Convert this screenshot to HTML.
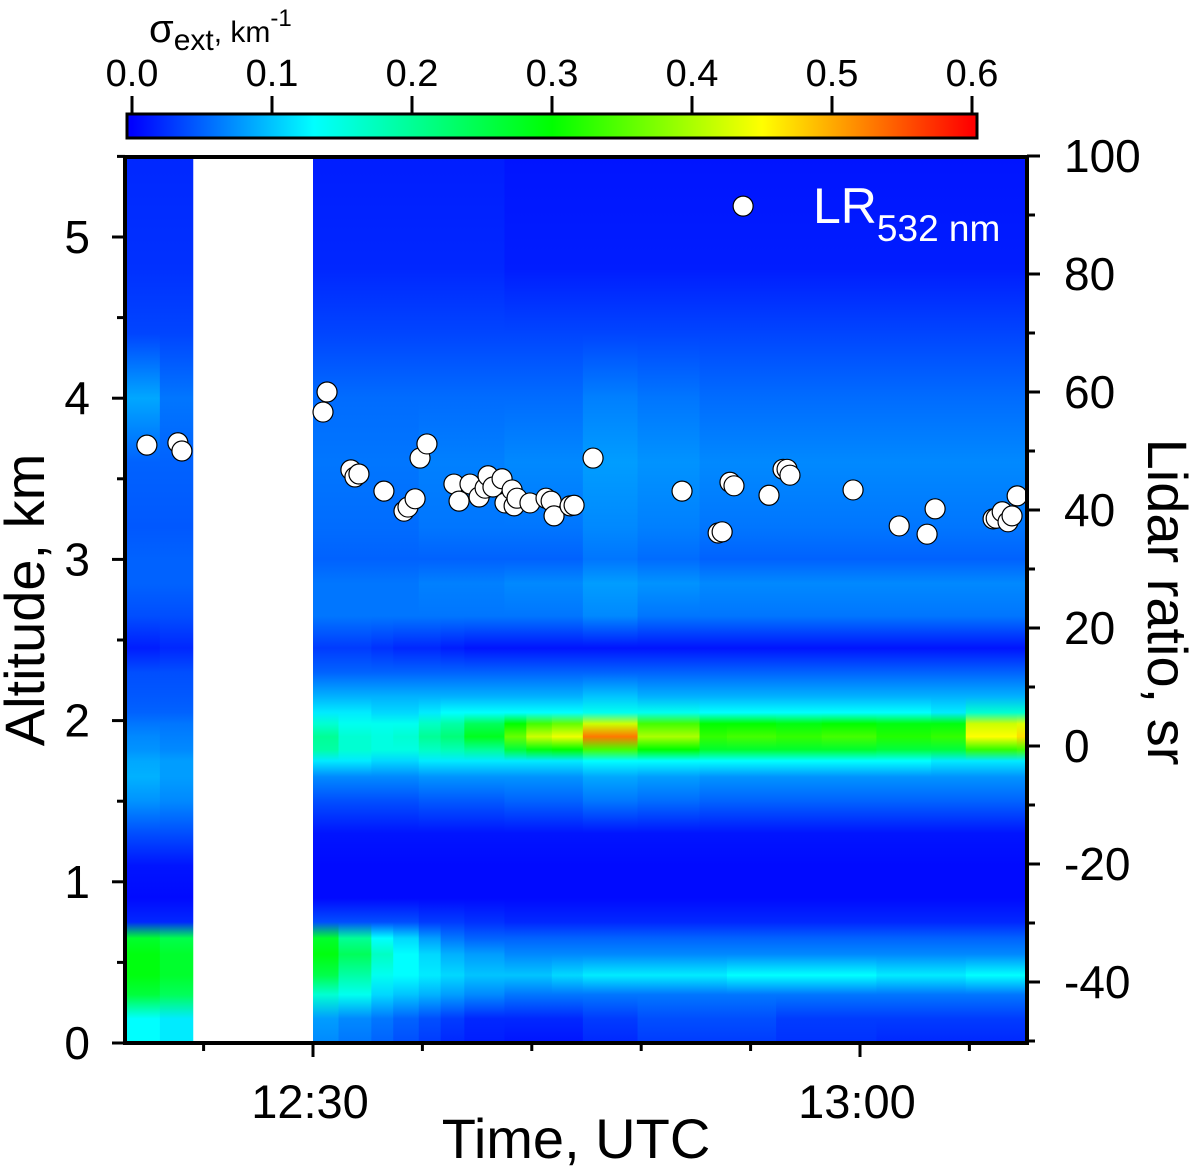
<!DOCTYPE html>
<html><head><meta charset="utf-8">
<style>
html,body{margin:0;padding:0;background:#fff;}
svg{display:block;font-family:"Liberation Sans",sans-serif;}
</style></head>
<body>
<svg id="chart" width="1194" height="1166" viewBox="0 0 1194 1166">
  <defs id="defs"></defs>
  <g id="heat"></g>
  <g id="points"></g>
  <g id="axes"></g>
  <g id="cbar"></g>
  <text x="813" y="223" fill="#fff" font-size="50">LR<tspan font-size="37" dy="18">532 nm</tspan></text>
  <text x="149" y="42" font-size="40">σ<tspan font-size="30" dy="8">ext</tspan><tspan font-size="30" dy="-8">, km</tspan><tspan font-size="24" dy="-16">-1</tspan></text>
  <text transform="translate(44,600) rotate(-90)" text-anchor="middle" font-size="56">Altitude, km</text>
  <text transform="translate(1148,602) rotate(90)" text-anchor="middle" font-size="56">Lidar ratio, sr</text>
  <text x="576" y="1158" text-anchor="middle" font-size="56">Time, UTC</text>
</svg>
<script>
// ---- data ----
const altNodes = [0.0,0.15,0.3,0.42,0.55,0.65,0.75,0.9,1.1,1.3,1.5,1.65,1.75,1.82,1.9,1.98,2.05,2.15,2.3,2.45,2.65,2.85,3.0,3.2,3.6,4.0,4.4,4.8,5.5];
const colStart = [19.7,21.6,30.0,31.4,33.2,34.4,35.8,37.0,38.3,40.5,41.7,43.1,44.8,47.8,51.2,52.7,55.4,57.9,60.9,63.9,65.8,68.6];
const colEnd   = [21.6,23.4,31.4,33.2,34.4,35.8,37.0,38.3,40.5,41.7,43.1,44.8,47.8,51.2,52.7,55.4,57.9,60.9,63.9,65.8,68.6,69.3];
const extinction = [
 [0.13,0.13,0.26,0.29,0.29,0.27,0.02,0.005,0.01,0.04,0.075,0.09,0.085,0.075,0.07,0.06,0.05,0.045,0.04,0.015,0.04,0.05,0.05,0.045,0.05,0.085,0.035,0.025,0.02],
 [0.12,0.12,0.24,0.27,0.27,0.25,0.02,0.005,0.01,0.04,0.07,0.08,0.08,0.07,0.065,0.06,0.05,0.045,0.04,0.02,0.04,0.05,0.05,0.045,0.05,0.06,0.035,0.025,0.02],
 [0.07,0.08,0.16,0.25,0.29,0.27,0.04,0.005,0.005,0.01,0.04,0.07,0.12,0.19,0.20,0.16,0.12,0.09,0.05,0.03,0.06,0.06,0.05,0.055,0.06,0.055,0.035,0.02,0.015],
 [0.06,0.07,0.14,0.19,0.24,0.20,0.04,0.005,0.005,0.01,0.04,0.07,0.12,0.16,0.16,0.14,0.12,0.09,0.05,0.03,0.06,0.06,0.05,0.055,0.06,0.055,0.035,0.02,0.015],
 [0.05,0.06,0.11,0.14,0.17,0.13,0.04,0.005,0.005,0.01,0.04,0.07,0.11,0.15,0.15,0.14,0.11,0.09,0.05,0.025,0.06,0.06,0.05,0.055,0.06,0.055,0.035,0.02,0.015],
 [0.04,0.05,0.10,0.13,0.13,0.11,0.04,0.005,0.005,0.01,0.04,0.07,0.11,0.15,0.16,0.14,0.11,0.09,0.05,0.02,0.06,0.06,0.05,0.055,0.06,0.055,0.035,0.02,0.015],
 [0.03,0.04,0.09,0.12,0.11,0.08,0.03,0.005,0.005,0.01,0.045,0.075,0.12,0.17,0.20,0.17,0.12,0.09,0.05,0.02,0.06,0.065,0.05,0.06,0.065,0.055,0.035,0.02,0.015],
 [0.02,0.03,0.08,0.11,0.09,0.06,0.03,0.005,0.005,0.01,0.045,0.075,0.12,0.18,0.22,0.19,0.13,0.09,0.05,0.015,0.06,0.065,0.05,0.06,0.065,0.055,0.035,0.02,0.015],
 [0.015,0.02,0.07,0.10,0.08,0.05,0.025,0.005,0.005,0.01,0.045,0.075,0.12,0.20,0.28,0.24,0.13,0.09,0.05,0.01,0.06,0.065,0.05,0.06,0.065,0.055,0.035,0.02,0.015],
 [0.01,0.02,0.06,0.10,0.07,0.05,0.02,0.005,0.005,0.01,0.05,0.075,0.12,0.26,0.36,0.30,0.13,0.09,0.05,0.01,0.06,0.07,0.05,0.06,0.07,0.055,0.035,0.015,0.01],
 [0.01,0.02,0.06,0.10,0.07,0.05,0.02,0.005,0.005,0.01,0.05,0.075,0.12,0.29,0.42,0.34,0.13,0.09,0.05,0.01,0.06,0.07,0.05,0.06,0.07,0.055,0.035,0.015,0.01],
 [0.01,0.02,0.06,0.11,0.07,0.05,0.02,0.005,0.005,0.01,0.05,0.075,0.12,0.30,0.44,0.36,0.13,0.09,0.05,0.01,0.06,0.07,0.05,0.06,0.07,0.055,0.035,0.015,0.01],
 [0.02,0.03,0.06,0.12,0.07,0.05,0.02,0.005,0.005,0.01,0.06,0.085,0.13,0.34,0.53,0.42,0.14,0.10,0.05,0.01,0.07,0.08,0.06,0.07,0.08,0.065,0.035,0.015,0.01],
 [0.03,0.04,0.06,0.12,0.07,0.05,0.02,0.005,0.005,0.01,0.055,0.08,0.13,0.30,0.40,0.34,0.14,0.09,0.05,0.01,0.06,0.075,0.055,0.065,0.075,0.06,0.035,0.015,0.01],
 [0.03,0.04,0.06,0.12,0.07,0.05,0.02,0.005,0.005,0.01,0.05,0.075,0.13,0.27,0.33,0.30,0.13,0.09,0.05,0.01,0.06,0.07,0.05,0.06,0.07,0.055,0.035,0.015,0.01],
 [0.03,0.04,0.06,0.13,0.07,0.05,0.02,0.005,0.005,0.01,0.05,0.075,0.13,0.27,0.34,0.30,0.13,0.09,0.05,0.01,0.06,0.07,0.05,0.06,0.07,0.055,0.035,0.015,0.01],
 [0.025,0.03,0.06,0.13,0.07,0.05,0.02,0.005,0.005,0.01,0.05,0.075,0.13,0.27,0.33,0.29,0.13,0.09,0.05,0.01,0.06,0.07,0.05,0.06,0.07,0.055,0.035,0.015,0.01],
 [0.025,0.03,0.06,0.13,0.07,0.05,0.02,0.005,0.005,0.01,0.05,0.075,0.13,0.27,0.34,0.30,0.13,0.09,0.05,0.01,0.06,0.07,0.05,0.06,0.07,0.055,0.035,0.015,0.01],
 [0.02,0.03,0.06,0.12,0.07,0.05,0.02,0.005,0.005,0.01,0.05,0.075,0.13,0.26,0.32,0.29,0.13,0.09,0.05,0.01,0.06,0.07,0.05,0.06,0.07,0.055,0.035,0.015,0.01],
 [0.02,0.03,0.06,0.12,0.07,0.05,0.02,0.005,0.005,0.01,0.05,0.075,0.12,0.26,0.33,0.29,0.12,0.09,0.05,0.01,0.06,0.07,0.05,0.06,0.07,0.055,0.035,0.015,0.01],
 [0.02,0.03,0.06,0.13,0.07,0.05,0.02,0.005,0.005,0.01,0.05,0.075,0.12,0.33,0.45,0.42,0.16,0.09,0.05,0.01,0.06,0.07,0.05,0.06,0.07,0.055,0.035,0.015,0.01],
 [0.02,0.03,0.06,0.13,0.07,0.05,0.02,0.005,0.005,0.01,0.05,0.075,0.12,0.34,0.47,0.43,0.16,0.09,0.05,0.01,0.06,0.07,0.05,0.06,0.07,0.055,0.035,0.015,0.01]
];
const lrTime = [20.89,22.59,22.81,30.55,30.77,32.08,32.30,32.52,33.89,34.99,35.21,35.60,35.87,36.25,37.73,38.01,38.61,39.11,39.44,39.60,39.87,40.37,40.53,40.92,41.03,41.19,41.90,42.78,43.06,43.22,44.10,44.32,45.36,50.24,52.22,52.44,52.87,53.09,55.01,55.78,56.00,56.16,59.62,62.15,63.68,64.12,67.30,67.47,67.80,68.12,68.34,68.62,53.59];
const lrValue = [51.0,51.4,50.0,56.6,60.0,46.8,45.6,46.1,43.2,39.8,40.5,41.9,48.8,51.2,44.4,41.5,44.4,42.2,43.7,45.8,43.9,45.3,41.2,43.4,40.7,42.0,41.2,42.0,41.5,39.0,40.7,40.8,48.8,43.2,36.1,36.3,44.7,44.1,42.5,46.9,46.9,45.9,43.4,37.3,35.9,40.2,38.5,38.6,39.7,38.0,39.0,42.4,91.5];
const yTicks = [0,1,2,3,4,5];
const y2Ticks = [-40,-20,0,20,40,60,80,100];
const xTickMin = [30,60];
const xTickLabels = ["12:30","13:00"];
const cbTicks = [0,0.1,0.2,0.3,0.4,0.5,0.6];
const cbLabels = ["0.0","0.1","0.2","0.3","0.4","0.5","0.6"];

// ---- scales ----
const PL=125, PR=1027, PT=157, PB=1043;
const xS = t => 313 + (t-30)*18.233;
const yS = a => PB - a*161.2;
const y2S = v => 746 - v*5.9;
const cbS = v => 132 + v*1400;
const NS="http://www.w3.org/2000/svg";
function mk(tag, attrs, parent){const e=document.createElementNS(NS,tag);for(const k in attrs)e.setAttribute(k,attrs[k]);parent.appendChild(e);return e;}
const cmStops=[[0,[0,0,255]],[0.13,[0,255,255]],[0.3,[0,255,0]],[0.45,[255,255,0]],[0.6,[255,0,0]]];
function cmap(v){v=Math.max(0,Math.min(0.6,v));for(let i=1;i<cmStops.length;i++){if(v<=cmStops[i][0]){const a=cmStops[i-1],b=cmStops[i];const f=(v-a[0])/(b[0]-a[0]);const c=a[1].map((x,j)=>Math.round(x+(b[1][j]-x)*f));return `rgb(${c[0]},${c[1]},${c[2]})`;}}return 'rgb(255,0,0)';}

const defs=document.getElementById('defs');
const heat=document.getElementById('heat');
extinction.forEach((prof,i)=>{
  const g=mk('linearGradient',{id:'g'+i,gradientUnits:'userSpaceOnUse',x1:0,x2:0,y1:yS(0),y2:yS(5.5)},defs);
  prof.forEach((v,j)=>{mk('stop',{offset:(altNodes[j]/5.5).toFixed(4),'stop-color':cmap(v)},g);});
  const x0=Math.max(PL,xS(colStart[i])), x1=Math.min(PR,xS(colEnd[i]));
  const r=mk('rect',{x:x0,y:PT,width:x1-x0+0.6,height:PB-PT,fill:'url(#g'+i+')'},heat);
  
  
});

const pts=document.getElementById('points');
lrTime.forEach((t,i)=>{
  const c=mk('circle',{cx:xS(t),cy:y2S(lrValue[i]),r:10,fill:'#fff',stroke:'#000','stroke-width':1.2},pts);
  
  
});

const ax=document.getElementById('axes');
mk('rect',{x:PL,y:PT,width:PR-PL,height:PB-PT,fill:'none',stroke:'#000','stroke-width':4},ax);
for(let a=0;a<=5.5;a+=0.5){const maj=Math.abs(a-Math.round(a))<1e-6;mk('line',{x1:PL,x2:PL-(maj?13:8),y1:yS(a),y2:yS(a),stroke:'#000','stroke-width':3},ax);}
yTicks.forEach(a=>{const t=mk('text',{x:90,y:yS(a)+16,'text-anchor':'end','font-size':46},ax);t.textContent=a;
  
  });
for(let v=-50;v<=100;v+=10){const maj=v%20===0;mk('line',{x1:PR,x2:PR+(maj?13:8),y1:y2S(v),y2:y2S(v),stroke:'#000','stroke-width':3},ax);}
y2Ticks.forEach(v=>{const t=mk('text',{x:1064,y:y2S(v)+16,'font-size':46},ax);t.textContent=v;
  
  });
for(let m=24;m<=66;m+=6){const maj=(m===30||m===60);mk('line',{x1:xS(m),x2:xS(m),y1:PB,y2:PB+(maj?14:8),stroke:'#000','stroke-width':3},ax);}
xTickMin.forEach((m,i)=>{const t=mk('text',{x:xS(m)-3,y:1118,'text-anchor':'middle','font-size':47},ax);t.textContent=xTickLabels[i];
  
  });

const cb=document.getElementById('cbar');
const cg=mk('linearGradient',{id:'cbg',gradientUnits:'userSpaceOnUse',x1:cbS(0),x2:cbS(0.6),y1:0,y2:0},defs);
cmStops.forEach(s=>mk('stop',{offset:s[0]/0.6,'stop-color':cmap(s[0])},cg));
mk('rect',{x:127,y:114,width:850,height:24,fill:'url(#cbg)',stroke:'#000','stroke-width':3},cb);
cbTicks.forEach((v,i)=>{mk('line',{x1:cbS(v),x2:cbS(v),y1:96,y2:114,stroke:'#000','stroke-width':3},cb);
  const t=mk('text',{x:cbS(v),y:86,'text-anchor':'middle','font-size':38},cb);t.textContent=cbLabels[i];
  
  });
</script>
</body></html>
